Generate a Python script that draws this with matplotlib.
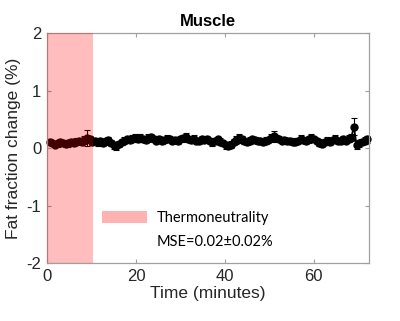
import numpy as np
import matplotlib
matplotlib.use("Agg")
import matplotlib.pyplot as plt
from matplotlib.patches import Patch

# ------------------------------------------------------------------
# DATA
# ------------------------------------------------------------------
sample_interval = 0.6  # minutes between acquisitions

fat_change = [
    0.10, 0.09, 0.06, 0.08, 0.11, 0.09, 0.07, 0.08, 0.10, 0.09,
    0.11, 0.12, 0.10, 0.14, 0.17, 0.15, 0.11, 0.13, 0.10, 0.12,
    0.08, 0.12, 0.14, 0.09, 0.05, 0.03, 0.07, 0.11, 0.13, 0.15,
    0.14, 0.16, 0.17, 0.15, 0.18, 0.16, 0.14, 0.17, 0.19, 0.16,
    0.13, 0.15, 0.12, 0.14, 0.16, 0.15, 0.13, 0.14, 0.12, 0.15,
    0.17, 0.19, 0.16, 0.14, 0.16, 0.13, 0.12, 0.15, 0.14, 0.16,
    0.12, 0.10, 0.13, 0.15, 0.11, 0.08, 0.05, 0.04, 0.06, 0.10,
    0.14, 0.17, 0.15, 0.12, 0.11, 0.13, 0.15, 0.14, 0.12, 0.13,
    0.11, 0.13, 0.14, 0.18, 0.21, 0.17, 0.15, 0.13, 0.14, 0.12,
    0.13, 0.11, 0.10, 0.13, 0.16, 0.14, 0.12, 0.15, 0.18, 0.15,
    0.12, 0.09, 0.07, 0.11, 0.13, 0.10, 0.14, 0.16, 0.12, 0.13,
    0.15, 0.13, 0.16, 0.18, 0.37, 0.05, 0.08, 0.11, 0.13, 0.15,
]
fat_err = [
    0.05, 0.04, 0.05, 0.06, 0.05, 0.04, 0.05, 0.06, 0.05, 0.05,
    0.06, 0.05, 0.05, 0.07, 0.14, 0.06, 0.05, 0.05, 0.06, 0.05,
    0.05, 0.06, 0.05, 0.05, 0.06, 0.07, 0.05, 0.05, 0.06, 0.05,
    0.05, 0.06, 0.07, 0.05, 0.06, 0.05, 0.05, 0.07, 0.06, 0.05,
    0.05, 0.06, 0.05, 0.05, 0.06, 0.05, 0.05, 0.06, 0.05, 0.05,
    0.06, 0.07, 0.05, 0.05, 0.06, 0.05, 0.05, 0.06, 0.05, 0.05,
    0.05, 0.06, 0.05, 0.05, 0.06, 0.05, 0.06, 0.05, 0.06, 0.05,
    0.07, 0.08, 0.06, 0.05, 0.05, 0.06, 0.05, 0.06, 0.05, 0.05,
    0.05, 0.06, 0.05, 0.07, 0.08, 0.06, 0.05, 0.05, 0.06, 0.05,
    0.05, 0.06, 0.05, 0.05, 0.06, 0.05, 0.05, 0.06, 0.07, 0.05,
    0.05, 0.06, 0.05, 0.05, 0.06, 0.05, 0.06, 0.06, 0.05, 0.05,
    0.06, 0.05, 0.06, 0.06, 0.15, 0.07, 0.06, 0.05, 0.06, 0.06,
]
time_min = sample_interval * np.arange(1, len(fat_change) + 1)

thermo_end = 10.3
legend_label = "Thermoneutrality"
mse_text = "MSE=0.02\u00b10.02%"

# ------------------------------------------------------------------
# PLOT
# ------------------------------------------------------------------
plt.rcParams["font.family"] = ["Liberation Sans", "DejaVu Sans"]
plt.rcParams["axes.unicode_minus"] = False
fig = plt.figure(figsize=(4.0, 3.21), dpi=100)
ax = fig.add_axes([0.1175, 0.1807, 0.805, 0.7163])

ax.errorbar(time_min, fat_change, yerr=fat_err, fmt="o-", color="black",
            ms=5.0, lw=1.3, elinewidth=0.8, capsize=2.0, capthick=0.8, zorder=2,
            clip_on=False)
span = ax.axvspan(0, thermo_end, color="red", alpha=0.26, lw=0, zorder=3)

ax.set_xlim(0, 72.4)
ax.set_ylim(-2, 2)
ax.set_xticks([0, 20, 40, 60])
ax.set_yticks([-2, -1, 0, 1, 2])

grey = "#a0a0a0"
txt = "#262626"
for s in ax.spines.values():
    s.set_color(grey)
    s.set_linewidth(0.9)
ax.tick_params(direction="in", top=True, right=True, length=3, color=grey,
               labelsize=12, labelcolor=txt, pad=4)

ax.set_title("Muscle", fontsize=12, fontweight="bold", pad=5, color="black")
ax.set_xlabel("Time (minutes)", fontsize=12.5, color=txt, labelpad=2)
ax.set_ylabel("Fat fraction change (%)", fontsize=12.5, color=txt, labelpad=4)

leg_handle = Patch(facecolor="red", alpha=0.3, lw=0)
ax.legend([leg_handle], [legend_label], loc="center left",
          bbox_to_anchor=(0.17, 0.196), frameon=False, borderpad=0,
          borderaxespad=0, handlelength=3.1, handleheight=0.95,
          handletextpad=0.65, prop={"family": "Lato", "size": 10.5})
ax.text(0.342, 0.091, mse_text, transform=ax.transAxes, va="center",
        ha="left", fontsize=10.5, family="Lato", color="black")

fig.savefig("out.png", dpi=100)
